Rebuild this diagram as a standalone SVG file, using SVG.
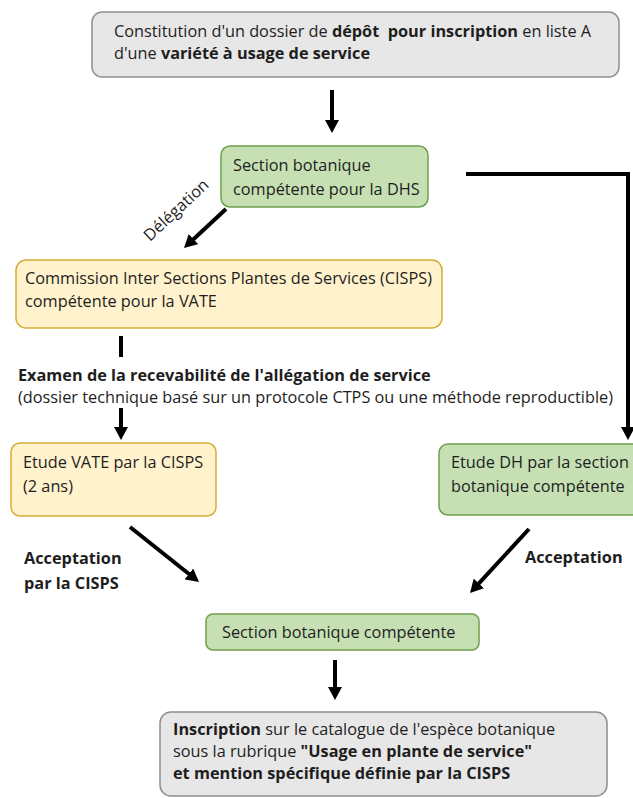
<svg xmlns="http://www.w3.org/2000/svg" width="633" height="798" viewBox="0 0 633 798">
<style>
text{font-family:"Open Sans","Noto Sans","Liberation Sans",sans-serif;font-size:16.3px;fill:#1e1e1e}
.b{font-weight:bold}
.gray{fill:#e7e7e7;stroke:#8f8f8f;stroke-width:1.5}
.green{fill:#c6e0b4;stroke:#6f9e4c;stroke-width:1.5}
.yellow{fill:#fff2cc;stroke:#d6ad37;stroke-width:1.5}
.arr{stroke:#000;stroke-width:4;fill:none;marker-end:url(#ah)}
.bar{stroke:#000;stroke-width:4;fill:none}
</style>
<defs>
<marker id="ah" markerUnits="userSpaceOnUse" viewBox="0 0 13 14" markerWidth="13" markerHeight="14" refX="3" refY="7" orient="auto">
<path d="M0,0 L13,7 L0,14 z" fill="#000"/>
</marker>
</defs>
<rect width="633" height="798" fill="#fff"/>
<g id="connectors">
<line class="arr" x1="332" y1="90" x2="332" y2="123"/>
<line class="arr" x1="226" y1="209" x2="191.3" y2="241.2"/>
<path class="arr" d="M466,174 H628 V430" stroke-linejoin="miter"/>
<line class="bar" x1="121" y1="336" x2="121" y2="357"/>
<line class="arr" x1="121" y1="408" x2="121" y2="430"/>
<line class="arr" x1="130" y1="527" x2="191.2" y2="575.8"/>
<line class="arr" x1="529" y1="529" x2="476.8" y2="585.6"/>
<line class="arr" x1="335" y1="660" x2="335" y2="690"/>
<text transform="translate(180,214) rotate(-43)" text-anchor="middle" font-size="14">Délégation</text>
<text class="b" x="24" y="564">Acceptation</text>
<text class="b" x="24" y="589">par la CISPS</text>
<text class="b" x="525" y="563">Acceptation</text>
</g>
<g id="n1">
<rect class="gray" x="92" y="12" width="527" height="65" rx="10"/>
<text x="114" y="37">Constitution d'un dossier de <tspan class="b">dépôt&#160; pour inscription</tspan> en liste A</text>
<text x="114" y="59">d'une <tspan class="b">variété à usage de service</tspan></text>
</g>
<g id="n2">
<rect class="green" x="221" y="146" width="207" height="61" rx="9"/>
<text x="233" y="171">Section botanique</text>
<text x="233" y="195">compétente pour la DHS</text>
</g>
<g id="n3">
<rect class="yellow" x="16" y="260" width="426" height="68" rx="10"/>
<text x="25" y="284">Commission Inter Sections Plantes de Services (CISPS)</text>
<text x="25" y="307">compétente pour la VATE</text>
</g>
<g id="n4">
<text class="b" x="18" y="381">Examen de la recevabilité de l'allégation de service</text>
<text x="18" y="403">(dossier technique basé sur un protocole CTPS ou une méthode reproductible)</text>
</g>
<g id="n5">
<rect class="yellow" x="11" y="443" width="205" height="73" rx="9"/>
<text x="23" y="468">Etude VATE par la CISPS</text>
<text x="23" y="492">(2 ans)</text>
</g>
<g id="n6">
<rect class="green" x="439" y="444" width="204" height="71" rx="9"/>
<text x="451" y="468">Etude DH par la section</text>
<text x="451" y="492">botanique compétente</text>
</g>
<g id="n7">
<rect class="green" x="206" y="614" width="273" height="36" rx="7"/>
<text x="222" y="638">Section botanique compétente</text>
</g>
<g id="n8">
<rect class="gray" x="160" y="712" width="447" height="84" rx="11"/>
<text x="173" y="735"><tspan class="b">Inscription</tspan> sur le catalogue de l'espèce botanique</text>
<text x="173" y="757">sous la rubrique <tspan class="b">"Usage en plante de service"</tspan></text>
<text class="b" x="173" y="779">et mention spécifique définie par la CISPS</text>
</g>
</svg>
